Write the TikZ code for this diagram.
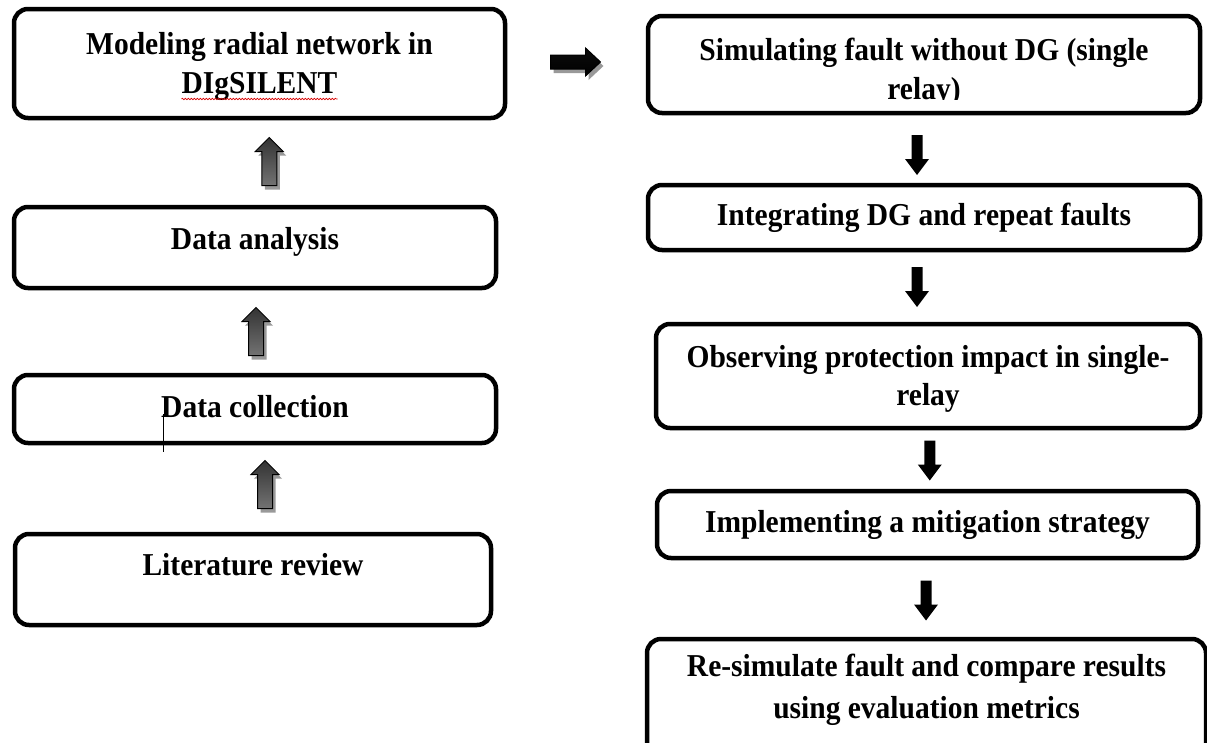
\documentclass[tikz,border=0pt]{standalone}
\usepackage{graphicx}
\usepackage{fontspec}
\setmainfont{Liberation Serif}
\usetikzlibrary{calc,decorations.pathmorphing}
\newcommand{\tallt}[1]{\scalebox{1}[1.08]{#1}}
\begin{document}
\begin{tikzpicture}[x=1pt,y=-1pt,
  box/.style={draw=black, line width=4.5pt, rounded corners=14pt, rectangle, inner sep=0pt},
  txt/.style={font=\bfseries\fontsize{29.5}{40}\selectfont, inner sep=0pt, anchor=base},
  uparr/.pic={
    \begin{scope}[shift={(3,4)}]
      \fill[black!40] (0,-24) -- (14,-10) -- (7.5,-10) -- (7.5,24) -- (-7.5,24) -- (-7.5,-10) -- (-14,-10) -- cycle;
    \end{scope}
    \shade[draw=black, line width=1pt, top color=black!80, middle color=black, bottom color=black!55]
      (0,-24) -- (14,-10) -- (7.5,-10) -- (7.5,24) -- (-7.5,24) -- (-7.5,-10) -- (-14,-10) -- cycle;
  },
  rightarr/.pic={
    \begin{scope}[shift={(3,4)}]
      \fill[black!40] (-25,-7) -- (10,-7) -- (10,-14) -- (25,0) -- (10,14) -- (10,7) -- (-25,7) -- cycle;
    \end{scope}
    \shade[draw=black, line width=1pt, top color=black!95, middle color=black!60, bottom color=black]
      (-25,-7) -- (10,-7) -- (10,-14) -- (25,0) -- (10,14) -- (10,7) -- (-25,7) -- cycle;
  },
  downarr/.pic={
    \fill[black] (-5.5,-20) -- (5.5,-20) -- (5.5,4) -- (12,4) -- (0,20) -- (-12,4) -- (-5.5,4) -- cycle;
  }
  ]
\useasboundingbox (0,0) rectangle (1207,742);
\clip (0,0) rectangle (1207,742);

% ---- left column boxes ----
\node[box, minimum width=491pt, minimum height=109pt] (mod) at (259.5,63.5) {};
\node[box, minimum width=482pt, minimum height=81pt]  (ana) at (255,247.5) {};
\node[box, minimum width=482pt, minimum height=68pt]  (col) at (255,409) {};
\node[box, minimum width=476pt, minimum height=91pt]  (lit) at (253,579.5) {};

% ---- right column boxes ----
\node[box, minimum width=552pt, minimum height=97pt]  (sim) at (924,64.5) {};
\node[box, minimum width=552pt, minimum height=65pt]  (int) at (924,217.5) {};
\node[box, minimum width=544pt, minimum height=104pt] (obs) at (928,376) {};
\node[box, minimum width=541pt, minimum height=67pt]  (imp) at (927.5,524.5) {};
\node[box, minimum width=559pt, minimum height=121pt] (res) at (926.5,699.5) {};

% ---- texts ----
\node[txt] (modt1) at (259.5,54) {\tallt{Modeling radial network in}};
\node[txt] (modt2) at (259.5,93) {\tallt{DIgSILENT}};
\node[txt] (anat) at (255,249) {\tallt{Data analysis}};
\node[txt] (colt) at (255,417) {\tallt{Data collection}};
\node[txt] (litt) at (253,575) {\tallt{Literature review}};

\node[txt] (simt1) at (924,60) {\tallt{Simulating fault without DG (single}};
\begin{scope}
  \clip (640,60) rectangle (1207,99.5);
  \node[txt] (simt2) at (924,99) {\tallt{relay)}};
\end{scope}
\node[txt] (intt) at (924,225) {\tallt{Integrating DG and repeat faults}};
\node[txt] (obst1) at (928,367) {\tallt{Observing protection impact in single-}};
\node[txt] (obst2) at (928,405) {\tallt{relay}};
\node[txt] (impt) at (927.5,532) {\tallt{Implementing a mitigation strategy}};
\node[txt] (rest1) at (926.5,676) {\tallt{Re-simulate fault and compare results}};
\node[txt] (rest2) at (926.5,718) {\tallt{using evaluation metrics}};

% spell-check underline and text cursor
\draw[red!85!black, line width=0.6pt, decorate, decoration={snake, amplitude=0.8pt, segment length=3pt}]
  ([yshift=-6pt]modt2.base west) -- ([yshift=-6pt]modt2.base east);
\draw[line width=0.9pt] ([xshift=2.5pt,yshift=3pt]colt.base west) -- ++(0,38);

% ---- arrows ----
\pic at ($(ana.north)!0.5!(mod.south)+(12,-1)$) {uparr};
\pic at ($(col.north)!0.5!(ana.south)+(1,0)$) {uparr};
\pic at ($(lit.north)!0.5!(col.south)+(11,-4)$) {uparr};
\pic at ($(mod.east)!0.5!(sim.west)+(-1,-2)$) {rightarr};
\pic at ($(sim.south)!0.5!(int.north)+(-7,6)$) {downarr};
\pic at ($(int.south)!0.5!(obs.north)+(-9,0)$) {downarr};
\pic at ($(obs.south)!0.5!(imp.north)+(2,1)$) {downarr};
\pic at ($(imp.south)!0.5!(res.north)+(-1,2)$) {downarr};
\end{tikzpicture}
\end{document}
